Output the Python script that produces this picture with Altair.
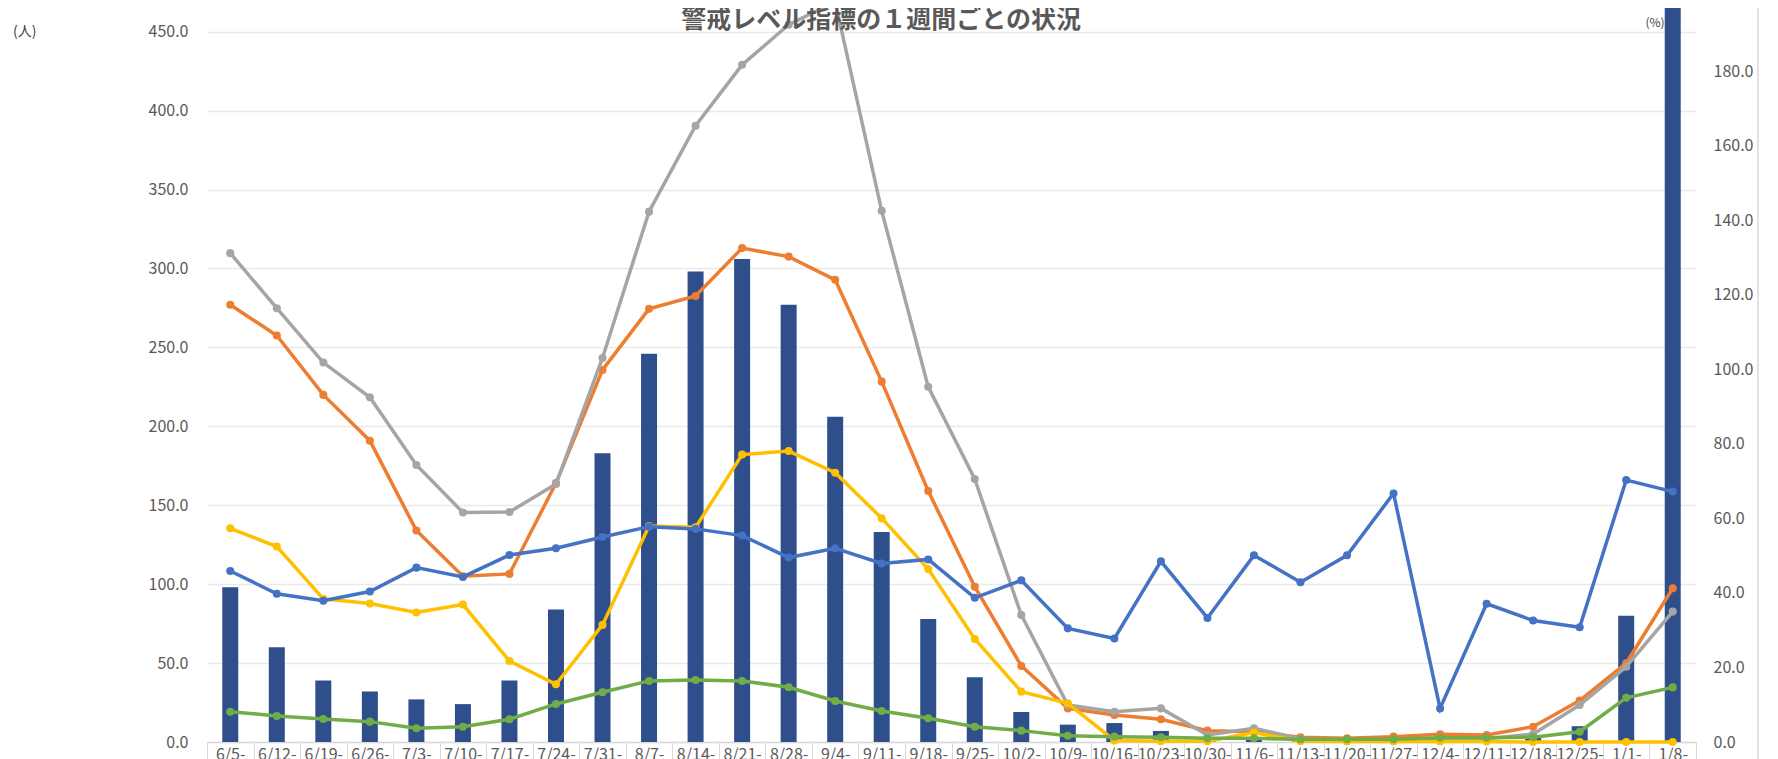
import altair as alt
import pandas as pd

FONT = "Noto Sans CJK JP"

weeks = ["6/5-", "6/12-", "6/19-", "6/26-", "7/3-", "7/10-", "7/17-", "7/24-", "7/31-", "8/7-",
         "8/14-", "8/21-", "8/28-", "9/4-", "9/11-", "9/18-", "9/25-", "10/2-", "10/9-", "10/16-",
         "10/23-", "10/30-", "11/6-", "11/13-", "11/20-", "11/27-", "12/4-", "12/11-", "12/18-",
         "12/25-", "1/1-", "1/8-"]

bars = [98, 60, 39, 32, 27, 24, 39, 84, 183, 246, 298, 306, 277, 206, 133, 78, 41, 19, 11, 12,
        7, 3, 2, 1, 1, 1, 1, 1, 3, 10, 80, 520]

gray = [309.7, 274.8, 240.4, 218.4, 175.5, 145.4, 145.7, 163.4, 243.3, 336.0, 390.4, 429.0,
        454.4, 469.0, 336.5, 225.0, 166.6, 80.5, 23.4, 19.2, 21.3, 4.4, 8.7, 2.0, 1.5, 1.5, 2.0,
        2.0, 5.0, 23.4, 47.7, 82.6]

orange = [277.0, 257.5, 219.9, 190.9, 134.0, 105.0, 106.5, 164.0, 235.7, 274.4, 282.6, 312.9,
          307.5, 292.8, 228.3, 159.0, 98.4, 48.2, 21.3, 17.1, 14.4, 7.2, 6.5, 3.0, 2.3, 3.4, 4.9,
          4.4, 9.7, 26.2, 49.9, 97.4]

yellow = [135.4, 123.8, 90.7, 87.8, 82.0, 87.1, 51.3, 36.6, 74.2, 136.8, 136.0, 182.1, 184.3,
          170.6, 141.8, 109.6, 65.3, 31.9, 24.5, 1.0, 0.5, 0.5, 6.0, 0.5, 0.3, 0.3, 0.3, 0.3,
          0.0, 0.0, 0.0, 0.0]

green = [19.2, 16.5, 14.6, 12.9, 8.7, 9.7, 14.4, 24.1, 31.5, 38.7, 39.3, 38.7, 34.7, 26.0, 19.6,
         15.0, 9.7, 7.2, 4.0, 3.4, 3.0, 2.3, 2.3, 1.7, 1.7, 1.7, 2.7, 2.7, 3.0, 6.5, 28.0, 34.6]

blue_pct = [45.9, 39.8, 37.9, 40.4, 46.8, 44.3, 50.2, 52.0, 55.0, 57.8, 57.2, 55.4, 49.5, 52.0,
            47.9, 49.0, 38.7, 43.4, 30.5, 27.8, 48.5, 33.3, 50.1, 42.9, 50.1, 66.7, 9.0, 37.1,
            32.6, 30.8, 70.3, 67.2]

title_text = "警戒レベル指標の１週間ごとの状況"
left_ticks = [0, 50, 100, 150, 200, 250, 300, 350, 400, 450]
right_ticks = [0, 20, 40, 60, 80, 100, 120, 140, 160, 180]

df = pd.DataFrame({"week": weeks, "bars": bars, "gray": gray, "orange": orange,
                   "yellow": yellow, "green": green, "blue": blue_pct})

W, H = 1489, 734
LEFT_MAX = 465
RIGHT_MAX = 197
LABEL = "#595959"

xenc = alt.X("week:N", sort=weeks, title=None,
             scale=alt.Scale(paddingInner=0, paddingOuter=0),
             axis=alt.Axis(labelAngle=0, labelFontSize=16, labelColor=LABEL, labelFont=FONT,
                           labelPadding=-16, tickBand="extent", tickSize=20, tickColor="#d9d9d9",
                           domainColor="#d9d9d9", domainWidth=1.5, labelOverlap=False,
                           grid=False))

left_scale = alt.Scale(domain=[0, LEFT_MAX], nice=False, zero=True)
left_axis = alt.Axis(values=left_ticks, format=".1f", labelFontSize=16, labelColor=LABEL,
                     labelFont=FONT, grid=True, gridColor="#e9e9e9", gridWidth=1.5,
                     domain=False, ticks=False, labelPadding=19, title=None)

base = alt.Chart(df)

bar_layer = base.mark_bar(size=16, color="#2F4F8C", clip=True).encode(
    x=xenc,
    y=alt.Y("bars:Q", scale=left_scale, axis=left_axis, title=None),
)

def line_layer(field, color):
    return base.mark_line(color=color, strokeWidth=3.5,
                          point=alt.OverlayMarkDef(filled=True, size=65, color=color)).encode(
        x=xenc,
        y=alt.Y(f"{field}:Q", scale=left_scale, axis=left_axis, title=None),
    )

left = alt.layer(bar_layer,
                 line_layer("orange", "#ED7D31"),
                 line_layer("gray", "#A5A5A5"),
                 line_layer("yellow", "#FFC000"),
                 line_layer("green", "#70AD47"))

blue_layer = base.mark_line(color="#4472C4", strokeWidth=3.5,
                            point=alt.OverlayMarkDef(filled=True, size=65, color="#4472C4")).encode(
    x=xenc,
    y=alt.Y("blue:Q", scale=alt.Scale(domain=[0, RIGHT_MAX], nice=False, zero=True), title=None,
            axis=alt.Axis(orient="right", values=right_ticks, format=".1f", labelFontSize=16,
                          labelColor=LABEL, labelFont=FONT, grid=False, domain=False,
                          ticks=False, labelPadding=17)),
)

tdf = pd.DataFrame({"t": [title_text]})
title_layer = alt.Chart(tdf).mark_text(font=FONT, fontSize=25, fontWeight="bold", color=LABEL,
                                       align="center", baseline="middle").encode(
    x=alt.value(674), y=alt.value(12), text="t:N")

udf = pd.DataFrame({"t": ["(人)"]})
unit_left = alt.Chart(udf).mark_text(font=FONT, fontSize=14, color="#404040", align="left",
                                     baseline="middle").encode(
    x=alt.value(-194), y=alt.value(24), text="t:N")

pdf = pd.DataFrame({"t": ["(%)"]})
unit_right = alt.Chart(pdf).mark_text(font=FONT, fontSize=12, color="#404040", align="center",
                                      baseline="middle").encode(
    x=alt.value(1448), y=alt.value(15), text="t:N")

border = alt.Chart(tdf).mark_rule(color="#d9d9d9", strokeWidth=1.5).encode(
    x=alt.value(1551), y=alt.value(0), y2=alt.value(H + 30))

chart = alt.layer(left, blue_layer, title_layer, unit_left, unit_right, border).resolve_scale(
    y="independent"
).properties(
    width=W, height=H,
    background="white",
    autosize=alt.AutoSizeParams(type="none"),
    padding={"left": 199, "top": 0, "right": 70, "bottom": 30},
).configure_view(stroke="transparent", strokeWidth=0)

chart.save("out.html", embed_options={"renderer": "svg", "actions": False})
